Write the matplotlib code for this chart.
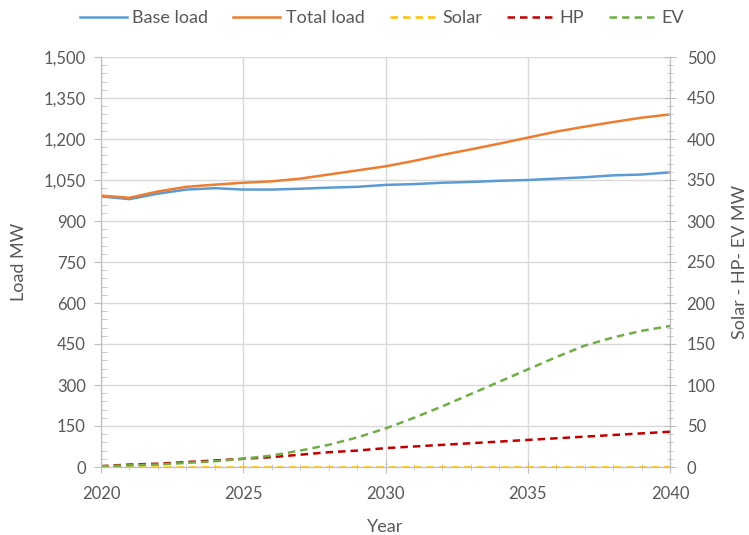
import matplotlib.pyplot as plt
from matplotlib.ticker import MultipleLocator, FuncFormatter

plt.rcParams['font.family'] = ['Lato', 'DejaVu Sans']

years = list(range(2020, 2041))
base_load = [990, 980, 1000, 1015, 1020, 1015, 1015, 1018, 1022, 1025, 1032,
             1035, 1040, 1043, 1047, 1050, 1055, 1060, 1067, 1070, 1078]
total_load = [993, 985, 1008, 1025, 1033, 1040, 1045, 1055, 1070, 1085, 1100,
              1120, 1142, 1162, 1183, 1205, 1227, 1245, 1262, 1278, 1290]
solar = [0.5] * 21
hp = [1, 3, 4, 6, 8, 10, 12, 15, 18, 20, 23, 25, 27, 29, 31, 33, 35, 37, 39, 41, 43]
ev = [1, 2, 3, 5, 7, 10, 14, 20, 27, 36, 47, 60, 74, 89, 104, 119, 134, 148, 158, 166, 172]

grey = '#595959'
axcol = '#BFBFBF'

fig = plt.figure(figsize=(7.49, 5.35), dpi=100)
ax = fig.add_axes([101 / 749, 68 / 535, 569 / 749, 410 / 535])
ax2 = ax.twinx()

l1, = ax.plot(years, base_load, color='#5B9BD5', lw=1.8, label='Base load')
l2, = ax.plot(years, total_load, color='#ED7D31', lw=1.8, label='Total load')
l3, = ax2.plot(years, solar, color='#FFC000', lw=1.8, ls=(0, (3, 2)), label='Solar')
l4, = ax2.plot(years, hp, color='#C00000', lw=1.8, ls=(0, (3, 2)), label='HP')
l5, = ax2.plot(years, ev, color='#70AD47', lw=1.8, ls=(0, (3, 2)), label='EV')

ax.set_xlim(2020, 2040)
ax.set_ylim(0, 1500)
ax2.set_ylim(0, 500)
ax.xaxis.set_major_locator(MultipleLocator(5))
ax.xaxis.set_minor_locator(MultipleLocator(1))
ax.yaxis.set_major_locator(MultipleLocator(150))
ax.yaxis.set_minor_locator(MultipleLocator(30))
ax2.yaxis.set_major_locator(MultipleLocator(50))
ax2.yaxis.set_minor_locator(MultipleLocator(10))
ax.yaxis.set_major_formatter(FuncFormatter(lambda v, p: f'{int(v):,}'))

ax.grid(True, which='major', color='#D9D9D9', lw=1)
ax.set_axisbelow(True)

for a in (ax, ax2):
    for s in a.spines.values():
        s.set_color(axcol)
    a.spines['top'].set_visible(False)
    a.tick_params(which='both', colors=axcol, labelcolor=grey, labelsize=12)
ax.tick_params(axis='y', which='major', direction='out', length=5, pad=6)
ax.tick_params(axis='y', which='minor', direction='in', length=4)
ax.tick_params(axis='x', which='major', direction='inout', length=8, pad=10)
ax.tick_params(axis='x', which='minor', direction='inout', length=5)
ax2.tick_params(axis='y', which='major', direction='inout', length=8, pad=8)
ax2.tick_params(axis='y', which='minor', direction='inout', length=5)

ax.set_xlabel('Year', color=grey, fontsize=13, labelpad=12)
ax.set_ylabel('Load MW', color=grey, fontsize=13, labelpad=12)
ax2.set_ylabel('Solar - HP- EV MW', color=grey, fontsize=13, labelpad=12)

fig.legend(handles=[l1, l2, l3, l4, l5], loc='upper center', bbox_to_anchor=(0.51, 1.012),
           ncol=5, frameon=False, fontsize=13, labelcolor=grey, handlelength=2.6,
           handletextpad=0.3, columnspacing=1.4)

fig.savefig('out.png', dpi=100)
